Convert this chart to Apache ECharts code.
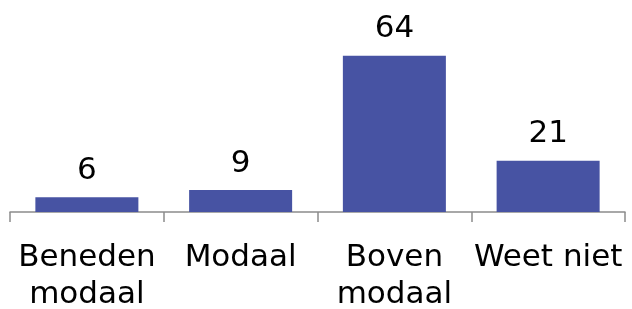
<!DOCTYPE html>
<html>
<head>
<meta charset="utf-8">
<script src="https://cdn.jsdelivr.net/npm/echarts@6/dist/echarts.min.js"></script>
<style>
  html, body { margin: 0; padding: 0; background: #fff; }
  #chart { width: 632px; height: 309px; }
</style>
</head>
<body>
<div id="chart"></div>
<script>
const categories = ['Beneden\nmodaal', 'Modaal', 'Boven\nmodaal', 'Weet niet'];
const values = [6, 9, 64, 21];

const chart = echarts.init(document.getElementById('chart'));
chart.setOption({
    animation: false,
    grid: { left: 10, right: 7, top: 41, bottom: 97, containLabel: false, outerBoundsMode: 'none' },
    xAxis: {
        type: 'category',
        data: categories,
        axisLine: { lineStyle: { color: '#8c8c8c', width: 1.5 } },
        axisTick: { show: true, alignWithLabel: false, length: 10, lineStyle: { color: '#8c8c8c', width: 1.5 } },
        axisLabel: {
            color: '#000',
            fontFamily: 'DejaVu Sans',
            fontSize: 31,
            lineHeight: 37,
            margin: 27,
            interval: 0
        }
    },
    yAxis: { type: 'value', min: 0, max: 70, show: false, splitLine: { show: false } },
    series: [{
        type: 'bar',
        data: values,
        barWidth: '67%',
        itemStyle: { color: '#4753a3' },
        label: {
            show: true,
            position: 'top',
            distance: 11,
            color: '#000',
            fontFamily: 'DejaVu Sans',
            fontSize: 31
        }
    }]
});
</script>
</body>
</html>
